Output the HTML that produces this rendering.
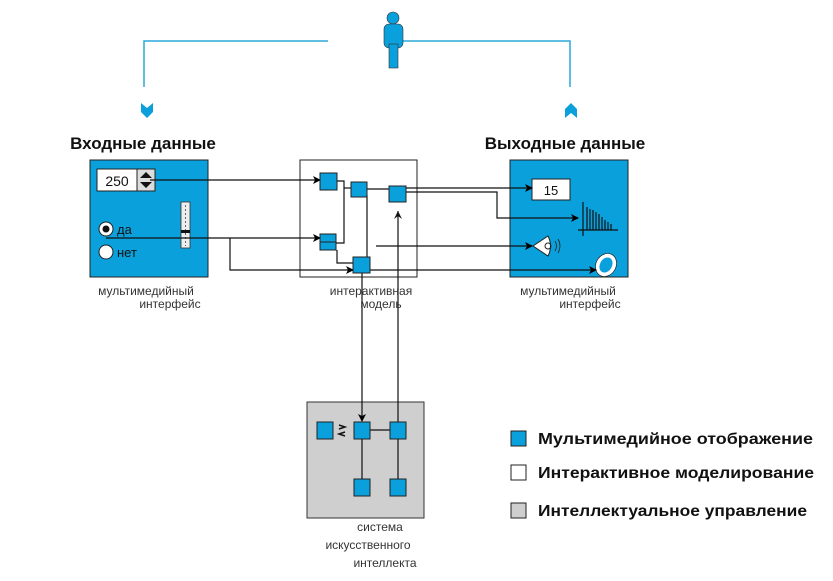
<!DOCTYPE html>
<html><head><meta charset="utf-8"><style>
html,body{margin:0;padding:0;background:#fff;}
svg{display:block;font-family:"Liberation Sans","DejaVu Sans",sans-serif;}
</style></head><body>
<svg width="833" height="581" viewBox="0 0 833 581" xmlns="http://www.w3.org/2000/svg">
<defs>
<marker id="a" markerWidth="8" markerHeight="8" refX="7" refY="4" orient="auto" markerUnits="userSpaceOnUse">
<path d="M0,0 L8,4 L0,8 L2,4 Z" fill="#000"/></marker>
</defs>
<g stroke="#2aa8d8" stroke-width="1.5" fill="none">
<polyline points="328,41 144,41 144,87"/>
<polyline points="400,41 570,41 570,87"/>
</g>
<path d="M141,103 L147,108 L153,103 L153,112 L147,118 L141,112 Z" fill="#0aa0dc"/>
<path d="M565,118 L571,113 L577,118 L577,109 L571,103 L565,109 Z" fill="#0aa0dc"/>
<circle cx="393" cy="18" r="6" fill="#0aa0dc" stroke="#333" stroke-width="0.6"/>
<rect x="384" y="24" width="19" height="24" rx="5" fill="#0aa0dc" stroke="#333" stroke-width="0.6"/>
<rect x="389" y="44" width="9" height="24" fill="#0aa0dc" stroke="#333" stroke-width="0.6"/>

<text x="143" y="149" font-size="17" font-weight="bold" text-anchor="middle" fill="#111">Входные данные</text>
<text x="565" y="149" font-size="17" font-weight="bold" text-anchor="middle" fill="#111">Выходные данные</text>

<rect x="90" y="160" width="118" height="117" fill="#0aa0dc" stroke="#222" stroke-width="1"/>
<rect x="300" y="160" width="117" height="117" fill="#fff" stroke="#222" stroke-width="1"/>
<rect x="510" y="160" width="118" height="117" fill="#0aa0dc" stroke="#222" stroke-width="1"/>
<rect x="307" y="402" width="117" height="116" fill="#cfcfcf" stroke="#333" stroke-width="1"/>

<rect x="97" y="169" width="40" height="22" fill="#fff" stroke="#222"/>
<text x="117" y="186" font-size="14" text-anchor="middle" fill="#111">250</text>
<rect x="137" y="169" width="18" height="22" fill="#ddd" stroke="#222"/>
<path d="M140,178 L146,172 L152,178 Z M140,182 L146,188 L152,182 Z" fill="#111"/>
<rect x="181" y="202" width="9" height="46" fill="#eee" stroke="#333" stroke-width="0.8"/>
<line x1="185.5" y1="205" x2="185.5" y2="246" stroke="#666" stroke-dasharray="2,2"/>
<rect x="181" y="230" width="9" height="3" fill="#111"/>
<circle cx="106" cy="229" r="7" fill="#fff" stroke="#222"/>
<circle cx="106" cy="229" r="3.5" fill="#111"/>
<text x="117" y="234" font-size="13" fill="#111">да</text>
<circle cx="106" cy="252" r="7" fill="#fff" stroke="#222"/>
<text x="117" y="257" font-size="13" fill="#111">нет</text>

<rect x="532" y="179" width="38" height="21" fill="#fff" stroke="#222"/>
<text x="551" y="195" font-size="13" text-anchor="middle" fill="#111">15</text>
<g stroke="#111" stroke-width="1.2">
<line x1="578" y1="230" x2="618" y2="230"/>
<line x1="583" y1="202" x2="583" y2="236"/>
<line x1="587" y1="207" x2="587" y2="230"/><line x1="590" y1="209" x2="590" y2="230"/>
<line x1="593" y1="210" x2="593" y2="230"/><line x1="596" y1="212" x2="596" y2="230"/>
<line x1="599" y1="214" x2="599" y2="230"/><line x1="602" y1="217" x2="602" y2="230"/>
<line x1="605" y1="220" x2="605" y2="230"/><line x1="608" y1="222" x2="608" y2="230"/>
<line x1="611" y1="224" x2="611" y2="230"/>
</g>
<path d="M533,246 L548,236 Q553,246 548,256 Z" fill="#fff" stroke="#222"/>
<circle cx="548" cy="246" r="3" fill="none" stroke="#222"/>
<path d="M555,241 Q558,246 555,251 M558,239 Q562,246 558,253" stroke="#222" fill="none" stroke-width="0.8"/>
<ellipse cx="606" cy="265" rx="8" ry="10" transform="rotate(30 606 265)" fill="none" stroke="#fff" stroke-width="4"/>
<ellipse cx="606" cy="265" rx="10" ry="12" transform="rotate(30 606 265)" fill="none" stroke="#222" stroke-width="0.7"/>

<g stroke="#111" stroke-width="1.2" fill="none">
<line x1="150" y1="180" x2="320" y2="180" marker-end="url(#a)"/>
<line x1="106" y1="238" x2="320" y2="238" marker-end="url(#a)"/>
<polyline points="230,238 230,270 353,270" marker-end="url(#a)"/>
<polyline points="337,181 344,181 344,243 336,243"/>
<line x1="344" y1="188" x2="351" y2="188"/>
<line x1="367" y1="189" x2="389" y2="189"/>
<polyline points="367,195 367,257"/>
<polyline points="337,250 337,263 353,263"/>
<line x1="406" y1="188" x2="532" y2="188" marker-end="url(#a)"/>
<polyline points="406,192 497,192 497,218 578,218" marker-end="url(#a)"/>
<line x1="376" y1="246" x2="532" y2="246" marker-end="url(#a)"/>
<line x1="370" y1="270" x2="596" y2="270" marker-end="url(#a)"/>
<line x1="362" y1="273" x2="362" y2="421" marker-end="url(#a)"/>
<line x1="398" y1="422" x2="398" y2="211"/>
<line x1="370" y1="430" x2="390" y2="430"/>
<line x1="362" y1="439" x2="362" y2="479"/>
<line x1="398" y1="439" x2="398" y2="479"/>
</g>
<path d="M394,219 L398,211 L402,219 L398,216 Z" fill="#111"/>
<path d="M339,425 L345,427 L339,429 M345,432 L339,434 L345,436" stroke="#111" stroke-width="1.5" fill="none"/>

<g fill="#0aa0dc" stroke="#222" stroke-width="1">
<rect x="320" y="173" width="17" height="17"/>
<rect x="351" y="182" width="16" height="15"/>
<rect x="389" y="186" width="17" height="16"/>
<rect x="320" y="234" width="16" height="16"/>
<rect x="353" y="257" width="17" height="16"/>
<rect x="317" y="422" width="16" height="17"/>
<rect x="354" y="422" width="16" height="17"/>
<rect x="390" y="422" width="16" height="17"/>
<rect x="354" y="479" width="16" height="17"/>
<rect x="390" y="479" width="16" height="17"/>
</g>
<line x1="320" y1="242" x2="336" y2="242" stroke="#222"/>

<g font-size="12" fill="#333" text-anchor="middle">
<text x="146" y="295">мультимедийный</text><text x="170" y="308">интерфейс</text>
<text x="371" y="295">интерактивная</text><text x="381" y="308">модель</text>
<text x="568" y="295">мультимедийный</text><text x="590" y="308">интерфейс</text>
<text x="380" y="531">система</text><text x="368" y="549">искусственного</text><text x="385" y="567">интеллекта</text>
</g>

<rect x="511" y="431" width="15" height="15" fill="#0aa0dc" stroke="#222"/>
<rect x="511" y="465" width="15" height="15" fill="#fff" stroke="#222"/>
<rect x="511" y="503" width="15" height="15" fill="#cfcfcf" stroke="#222"/>
<g font-size="16" font-weight="bold" fill="#111">
<text x="538" y="444" textLength="275" lengthAdjust="spacingAndGlyphs">Мультимедийное отображение</text>
<text x="538" y="478" textLength="276" lengthAdjust="spacingAndGlyphs">Интерактивное моделирование</text>
<text x="538" y="516" textLength="269" lengthAdjust="spacingAndGlyphs">Интеллектуальное управление</text>
</g>
</svg>
</body></html>
